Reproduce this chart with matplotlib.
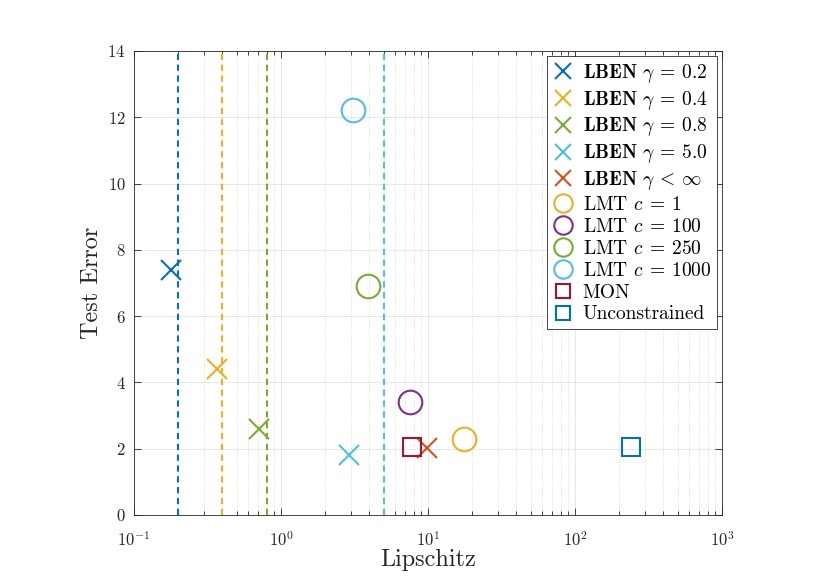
import numpy as np
import matplotlib
matplotlib.use('Agg')
import matplotlib.pyplot as plt

plt.rcParams['font.family'] = 'cmr10'
plt.rcParams['mathtext.fontset'] = 'cm'
plt.rcParams['axes.formatter.use_mathtext'] = True

# MATLAB default colours
BLUE = '#0072BD'
ORANGE = '#EDB120'
GREEN = '#77AC30'
CYAN = '#4DBEEE'
RED = '#D95319'
PURPLE = '#7E2F8E'
DARKRED = '#A2142F'

# LBEN results (x markers) and gamma bounds (dashed lines)
lben_labels = [r'$\mathbf{LBEN}\ \gamma\:=\:0.2$', r'$\mathbf{LBEN}\ \gamma\:=\:0.4$',
               r'$\mathbf{LBEN}\ \gamma\:=\:0.8$', r'$\mathbf{LBEN}\ \gamma\:=\:5.0$',
               r'$\mathbf{LBEN}\ \gamma\:<\:\infty$']
lben_lip = [0.18, 0.37, 0.71, 2.9, 9.9]
lben_err = [7.4, 4.4, 2.6, 1.8, 2.02]
lben_gamma = [0.2, 0.4, 0.8, 5.0]
lben_colors = [BLUE, ORANGE, GREEN, CYAN, RED]

# LMT results (circles)
lmt_labels = [r'LMT $c\:=\:1$', r'LMT $c\:=\:100$', r'LMT $c\:=\:250$', r'LMT $c\:=\:1000$']
lmt_lip = [17.6, 7.6, 3.9, 3.1]
lmt_err = [2.28, 3.4, 6.9, 12.21]
lmt_colors = [ORANGE, PURPLE, GREEN, CYAN]

# other models (squares)
sq_labels = ['MON', 'Unconstrained']
sq_lip = [7.8, 240]
sq_err = [2.05, 2.05]
sq_colors = [DARKRED, BLUE]

fig = plt.figure(figsize=(8.3, 5.87), dpi=100)
ax = fig.add_axes([0.1614, 0.1227, 0.7084, 0.7905])

for g, c in zip(lben_gamma, lben_colors[:4]):
    ax.axvline(g, color=c, linestyle='--', linewidth=1.5, dashes=(3, 2.2))

for x, y, c, lab in zip(lben_lip, lben_err, lben_colors, lben_labels):
    ax.plot(x, y, 'x', color=c, markersize=15, markeredgewidth=1.5, label=lab)
for x, y, c, lab in zip(lmt_lip, lmt_err, lmt_colors, lmt_labels):
    ax.plot(x, y, 'o', color=c, markerfacecolor='none', markersize=17,
            markeredgewidth=1.5, label=lab)
for x, y, c, lab in zip(sq_lip, sq_err, sq_colors, sq_labels):
    ax.plot(x, y, 's', color=c, markerfacecolor='none', markersize=13,
            markeredgewidth=1.5, label=lab)

ax.set_xscale('log')
ax.set_xlim(0.1, 1000)
ax.set_ylim(0, 14)
ax.set_yticks(np.arange(0, 15, 2))

ax.grid(True, which='major', color='#262626', alpha=0.12, linewidth=0.6)
ax.grid(True, which='minor', axis='x', color='#262626', alpha=0.2,
        linewidth=0.6, linestyle=':')
ax.set_axisbelow(True)

for s in ax.spines.values():
    s.set_color('#262626')
    s.set_linewidth(0.6)
ax.tick_params(which='both', direction='in', top=True, right=True,
               colors='#262626', labelsize=12, width=0.6)
ax.tick_params(which='major', length=5)
ax.tick_params(which='minor', length=3)
ax.tick_params(axis='x', which='major', pad=11)
ax.tick_params(axis='y', which='major', pad=6)

ax.set_xlabel('Lipschitz', fontsize=17.5, color='#262626', labelpad=0)
ax.set_ylabel('Test Error', fontsize=17.5, color='#262626', labelpad=3)

leg = ax.legend(loc='upper right', fontsize=14, handlelength=1.1,
                handletextpad=0.45, labelspacing=0.2, borderpad=0.3,
                borderaxespad=0.25, fancybox=False, framealpha=1,
                markerscale=0.78)
leg.get_frame().set_edgecolor('#262626')
leg.get_frame().set_linewidth(0.6)

fig.savefig('out.png', dpi=100)
